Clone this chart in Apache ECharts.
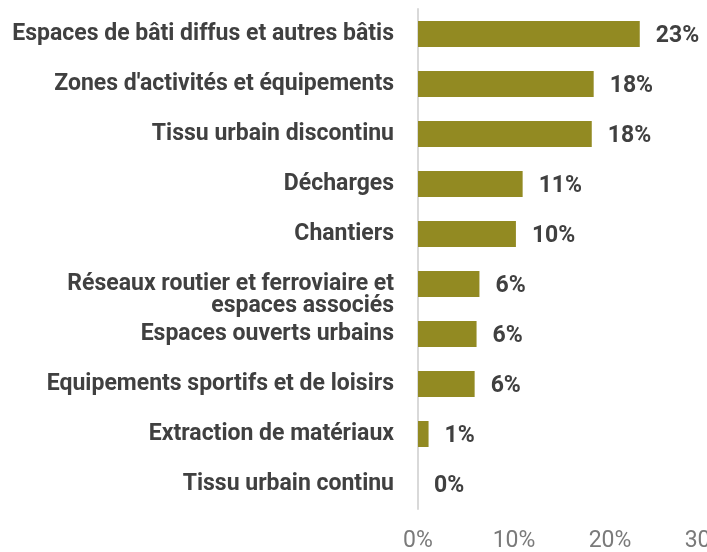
<!DOCTYPE html>
<html>
<head>
<meta charset="utf-8">
<script src="https://cdn.jsdelivr.net/npm/echarts@6/dist/echarts.min.js"></script>
<style>
  html, body { margin: 0; padding: 0; background: #ffffff; }
  #chart { width: 707px; height: 552px; }
</style>
</head>
<body>
<div id="chart"></div>
<script>
// Land-use categories, top to bottom
const categories = [
  "Espaces de bâti diffus et autres bâtis",
  "Zones d'activités et équipements",
  "Tissu urbain discontinu",
  "Décharges",
  "Chantiers",
  "Réseaux routier et ferroviaire et\nespaces associés",
  "Espaces ouverts urbains",
  "Equipements sportifs et de loisirs",
  "Extraction de matériaux",
  "Tissu urbain continu"
];

// Share of each category, in percent
const shares = [23.1, 18.3, 18.1, 10.9, 10.2, 6.4, 6.1, 5.9, 1.1, 0];

// Horizontal axis ticks, in percent
const axisMin = 0;
const axisMax = 30;
const axisStep = 10;

const chart = echarts.init(document.getElementById('chart'), null, { renderer: 'canvas' });

chart.setOption({
  animation: false,
  backgroundColor: '#ffffff',
  grid: {
    left: 418, right: 1, top: 9, bottom: 43,
    containLabel: false,
    outerBoundsMode: 'none'
  },
  xAxis: {
    type: 'value',
    min: axisMin,
    max: axisMax,
    interval: axisStep,
    axisLine: { show: false },
    axisTick: { show: false },
    splitLine: { show: false },
    axisLabel: {
      formatter: v => v + '%',
      color: '#7a7a7a',
      fontFamily: 'Roboto',
      fontSize: 23,
      margin: 21,
      hideOverlap: false
    }
  },
  yAxis: {
    type: 'category',
    inverse: true,
    data: categories,
    axisLine: { show: true, lineStyle: { color: '#d9d9d9', width: 2 } },
    axisTick: { show: false },
    axisLabel: {
      // two-line names keep their first line level with the bar
      formatter: name => name.indexOf('\n') >= 0 ? '\n' + name : name,
      color: '#404040',
      fontFamily: 'Roboto',
      fontWeight: 'bold',
      fontSize: 23,
      lineHeight: 22,
      align: 'right',
      margin: 24
    }
  },
  series: [{
    type: 'bar',
    data: shares,
    barWidth: 26,
    itemStyle: { color: '#928a22' },
    label: {
      show: true,
      position: 'right',
      distance: 16,
      offset: [0, 2],
      formatter: p => Math.round(p.value) + '%',
      color: '#404040',
      fontFamily: 'Roboto',
      fontWeight: 'bold',
      fontSize: 23
    }
  }]
});
</script>
</body>
</html>
